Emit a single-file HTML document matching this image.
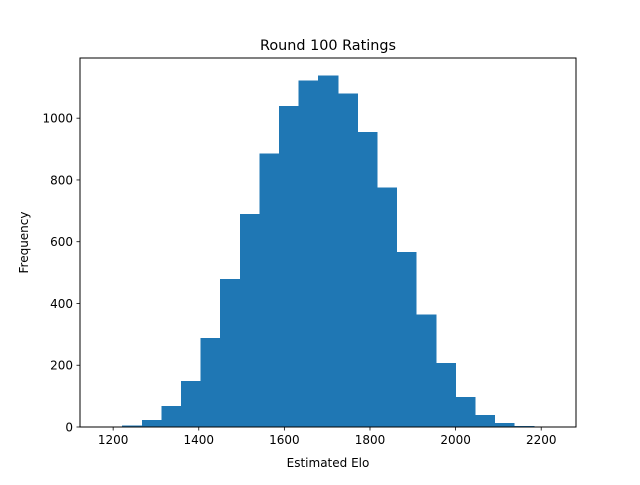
<!DOCTYPE html>
<html><head><meta charset="utf-8"><style>
body{margin:0;background:#fff;}
svg text{font-family:"DejaVu Sans","Liberation Sans",sans-serif;fill:#000;}
</style></head><body>
<svg id="chart" width="640" height="480" xmlns="http://www.w3.org/2000/svg">
<rect width="640" height="480" fill="#fff"/>
<text x="328" y="50" font-size="14.4" text-anchor="middle">Round 100 Ratings</text>
<g id="bars" shape-rendering="crispEdges"></g>
<g id="xticks"></g>
<g id="yticks"></g>
<rect x="80" y="58" width="496" height="369" fill="none" stroke="#000" stroke-width="1"/>
<text x="328" y="467" font-size="12" text-anchor="middle">Estimated Elo</text>
<text x="0" y="0" font-size="12" text-anchor="middle" transform="translate(28,242.5) rotate(-90)">Frequency</text>
</svg>
<script>
const binStart = 1175.2;
const binWidth = 45.8;
const counts = [2,5,23,68,149,289,480,690,885,1040,1122,1138,1080,955,775,567,365,207,97,39,13,3,1];
const xTickValues = [1200,1400,1600,1800,2000,2200];
const yTickValues = [0,200,400,600,800,1000];

const NS="http://www.w3.org/2000/svg";
const L=80,R=576,T=58,B=427;
const xMin=binStart, xMax=binStart+binWidth*counts.length;
const pad=(xMax-xMin)*0.05;
const x0=xMin-pad, x1=xMax+pad;
const yMax=Math.max(...counts)*1.05;
const xs=v=>L+(v-x0)/(x1-x0)*(R-L);
const ys=v=>B-v/yMax*(B-T);
function mk(tag,attrs,parent){const e=document.createElementNS(NS,tag);for(const k in attrs)e.setAttribute(k,attrs[k]);parent.appendChild(e);return e;}
const gb=document.getElementById('bars');
counts.forEach((c,i)=>{
  const a=xs(binStart+i*binWidth), b=xs(binStart+(i+1)*binWidth);
  const r=mk('rect',{x:a,y:ys(c),width:b-a+0.5,height:B-ys(c),fill:'#1f77b4'},gb);
  
  
});
const gx=document.getElementById('xticks');
xTickValues.forEach(v=>{
  const x=xs(v);
  const l=mk('line',{x1:x,x2:x,y1:B,y2:B+3.5,stroke:'#000','stroke-width':0.8},gx);
  
  
  const t=mk('text',{x:x,y:B+17,'font-size':12,'text-anchor':'middle'},gx);
  t.textContent=v;
  
  
});
const gy=document.getElementById('yticks');
yTickValues.forEach(v=>{
  const y=ys(v);
  const l=mk('line',{x1:L-3.5,x2:L,y1:y,y2:y,stroke:'#000','stroke-width':0.8},gy);
  
  
  const t=mk('text',{x:L-7,y:y+4.5,'font-size':12,'text-anchor':'end'},gy);
  t.textContent=v;
  
  
});
</script>
</body></html>
